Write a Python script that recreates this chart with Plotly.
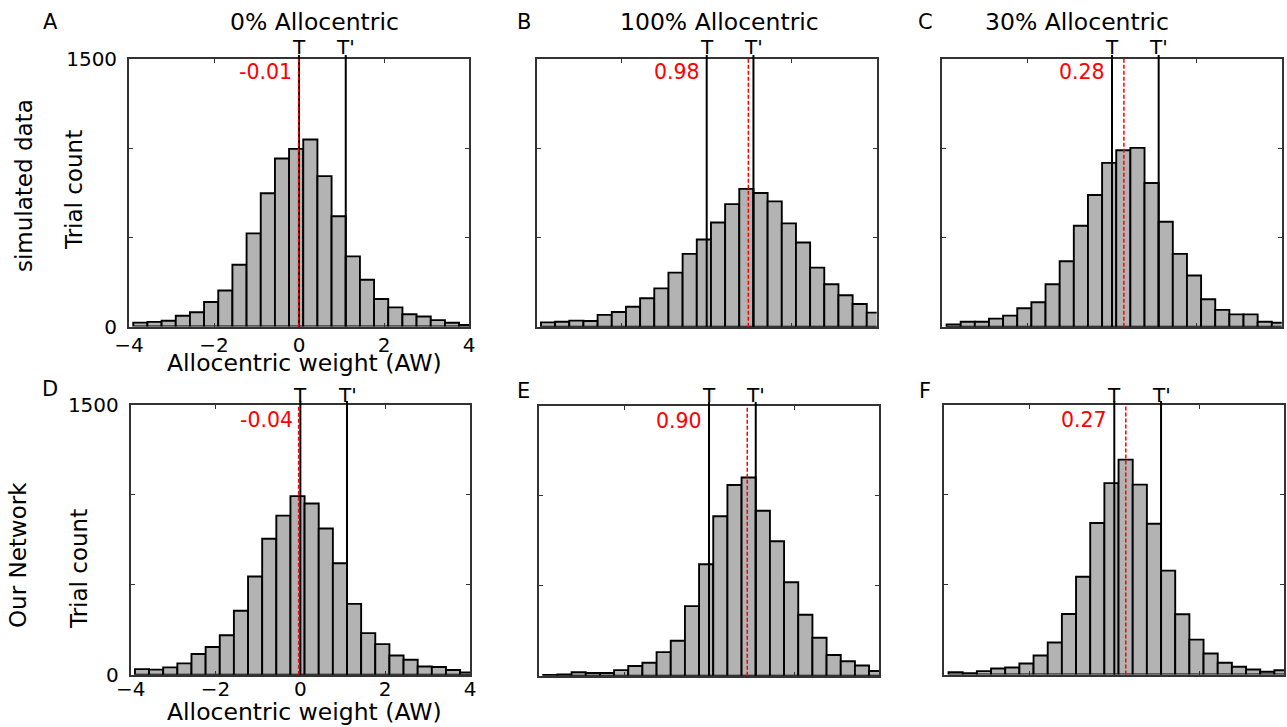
import plotly.graph_objects as go

# ---------------- data ----------------
bin_start = -3.9
bin_width = 1 / 3
n_bins = 24
bin_centers = [round(bin_start + bin_width * (i + 0.5), 4) for i in range(n_bins)]

counts_A = [22, 26, 32, 60, 80, 137, 202, 346, 522, 747, 942, 996, 1049, 843, 618, 393, 262, 154, 107, 69, 56, 36, 21, 9]
counts_B = [24, 28, 34, 32, 66, 82, 112, 159, 215, 303, 408, 489, 584, 687, 772, 749, 702, 579, 472, 331, 238, 176, 127, 79]
counts_C = [13, 28, 28, 45, 62, 103, 137, 238, 367, 566, 738, 918, 989, 1002, 805, 588, 408, 287, 154, 94, 69, 69, 28, 22]
counts_D = [31, 28, 41, 63, 115, 154, 219, 356, 546, 756, 885, 993, 952, 813, 620, 394, 231, 170, 107, 83, 46, 43, 26, 13]
counts_E = [4, 7, 19, 15, 15, 31, 54, 72, 131, 194, 387, 620, 887, 1061, 1102, 917, 748, 520, 339, 211, 115, 80, 57, 26]
counts_F = [13, 7, 19, 33, 39, 61, 106, 178, 337, 544, 843, 1065, 1196, 1057, 839, 578, 335, 194, 117, 65, 43, 28, 15, 24]

panel_counts = [counts_A, counts_B, counts_C, counts_D, counts_E, counts_F]
panel_letters = ["A", "B", "C", "D", "E", "F"]
column_titles = ["0% Allocentric", "100% Allocentric", "30% Allocentric"]
row_titles = ["simulated data", "Our Network"]
mean_values = [-0.01, 0.98, 0.28, -0.04, 0.90, 0.27]
mean_labels = ["-0.01", "0.98", "0.28", "-0.04", "0.90", "0.27"]
T_pos = 0.0
Tp_pos = 1.1
x_ticks = [-4, -2, 0, 2, 4]
y_ticks = [0, 500, 1000, 1500]
y_ticktext = ["0", "", "", "1500"]

# ---------------- layout geometry (pixels) ----------------
W, H = 1287, 727
FONT = "DejaVu Sans"
boxes = [
    (129.0, 469.0, 59.0, 326.5),
    (536.7, 876.7, 59.0, 326.7),
    (942.3, 1281.7, 59.0, 326.7),
    (130.7, 470.0, 405.0, 674.7),
    (539.0, 879.0, 406.0, 675.7),
    (944.3, 1284.3, 405.0, 674.5),
]
x_label_standoff = [0, 0, 0, -5, 0, 0]


def px(x):
    return x / W


def py(y):
    return 1 - y / H


fig = go.Figure()
layout = dict(
    width=W, height=H, margin=dict(l=0, r=0, t=0, b=0, autoexpand=False),
    paper_bgcolor="white", plot_bgcolor="white", showlegend=False,
    font=dict(family=FONT, color="black"),
)
shapes = []
annotations = []

for i, counts in enumerate(panel_counts):
    k = "" if i == 0 else str(i + 1)
    xa, ya = "x" + k, "y" + k
    x0, x1, y0, y1 = boxes[i]
    fig.add_trace(go.Bar(
        x=bin_centers, y=counts, width=bin_width, xaxis=xa, yaxis=ya,
        marker=dict(color="#b3b3b3", line=dict(color="black", width=1.9)),
        hoverinfo="x+y",
    ))
    labeled = i in (0, 3)
    layout["xaxis" + k] = dict(
        domain=[px(x0), px(x1)], range=[-4, 4], anchor=ya, automargin=False,
        showgrid=False, zeroline=False, showline=True, linecolor="#333", linewidth=1.8,
        mirror="ticks", ticks="inside", ticklen=4, tickwidth=1.3, tickcolor="#333",
        tickvals=x_ticks, showticklabels=labeled,
        tickfont=dict(size=20, family=FONT, color="black"),
        ticklabelstandoff=x_label_standoff[i],
    )
    layout["yaxis" + k] = dict(
        domain=[py(y1), py(y0)], range=[0, 1500], anchor=xa, automargin=False,
        showgrid=False, zeroline=False, showline=True, linecolor="#333", linewidth=1.8,
        mirror="ticks", ticks="inside", ticklen=4, tickwidth=1.3, tickcolor="#333",
        tickvals=y_ticks, ticktext=y_ticktext, showticklabels=labeled,
        tickfont=dict(size=20, family=FONT, color="black"),
        ticklabelstandoff=6,
    )
    # T and T' lines
    for xv in (T_pos, Tp_pos):
        shapes.append(dict(type="line", xref=xa, yref=ya + " domain", x0=xv, x1=xv,
                           y0=0, y1=1.015, line=dict(color="black", width=2)))
    # mean line
    shapes.append(dict(type="line", xref=xa, yref=ya + " domain", x0=mean_values[i], x1=mean_values[i],
                       y0=0, y1=1, line=dict(color="red", width=1.5, dash="4px,2px")))
    # T labels
    ty = 47.5 if i < 3 else 395
    for xv, txt in ((T_pos, "T"), (Tp_pos, "T'")):
        annotations.append(dict(text=txt, xref=xa, yref="paper", x=xv, y=py(ty),
                                xanchor="center", yanchor="middle", showarrow=False,
                                font=dict(size=20, family=FONT, color="black")))
    # mean label
    my = y0 + (13 if i < 3 else 15)
    annotations.append(dict(text=mean_labels[i], xref=xa, yref="paper", x=T_pos, y=py(my),
                            xanchor="right", yanchor="middle", xshift=-5, showarrow=False,
                            font=dict(size=20.5, family=FONT, color="red")))

# panel letters
letter_pos = [(50, 22), (524, 22), (925, 22), (49.5, 389), (523, 391), (925, 391)]
for (lx, ly), t in zip(letter_pos, panel_letters):
    annotations.append(dict(text=t, xref="paper", yref="paper", x=px(lx), y=py(ly),
                            xanchor="center", yanchor="middle", showarrow=False,
                            font=dict(size=21, family=FONT, color="black")))

# column titles
for (tx, t) in zip([314, 719.5, 1077], column_titles):
    annotations.append(dict(text=t, xref="paper", yref="paper", x=px(tx), y=py(22),
                            xanchor="center", yanchor="middle", showarrow=False,
                            font=dict(size=23.5, family=FONT, color="black")))

# row titles and y-axis titles
for (tx, ty, t) in [(24, 186, row_titles[0]), (18, 555, row_titles[1]),
                    (74, 190, "Trial count"), (79, 569, "Trial count")]:
    annotations.append(dict(text=t, xref="paper", yref="paper", x=px(tx), y=py(ty),
                            xanchor="center", yanchor="middle", textangle=-90, showarrow=False,
                            font=dict(size=23, family=FONT, color="black")))

# x-axis titles
for ty in (363, 712):
    annotations.append(dict(text="Allocentric weight (AW)", xref="paper", yref="paper",
                            x=px(304), y=py(ty), xanchor="center", yanchor="middle", showarrow=False,
                            font=dict(size=23.5, family=FONT, color="black")))

layout["shapes"] = shapes
layout["annotations"] = annotations
fig.update_layout(**layout)
fig.write_html("out.html")
